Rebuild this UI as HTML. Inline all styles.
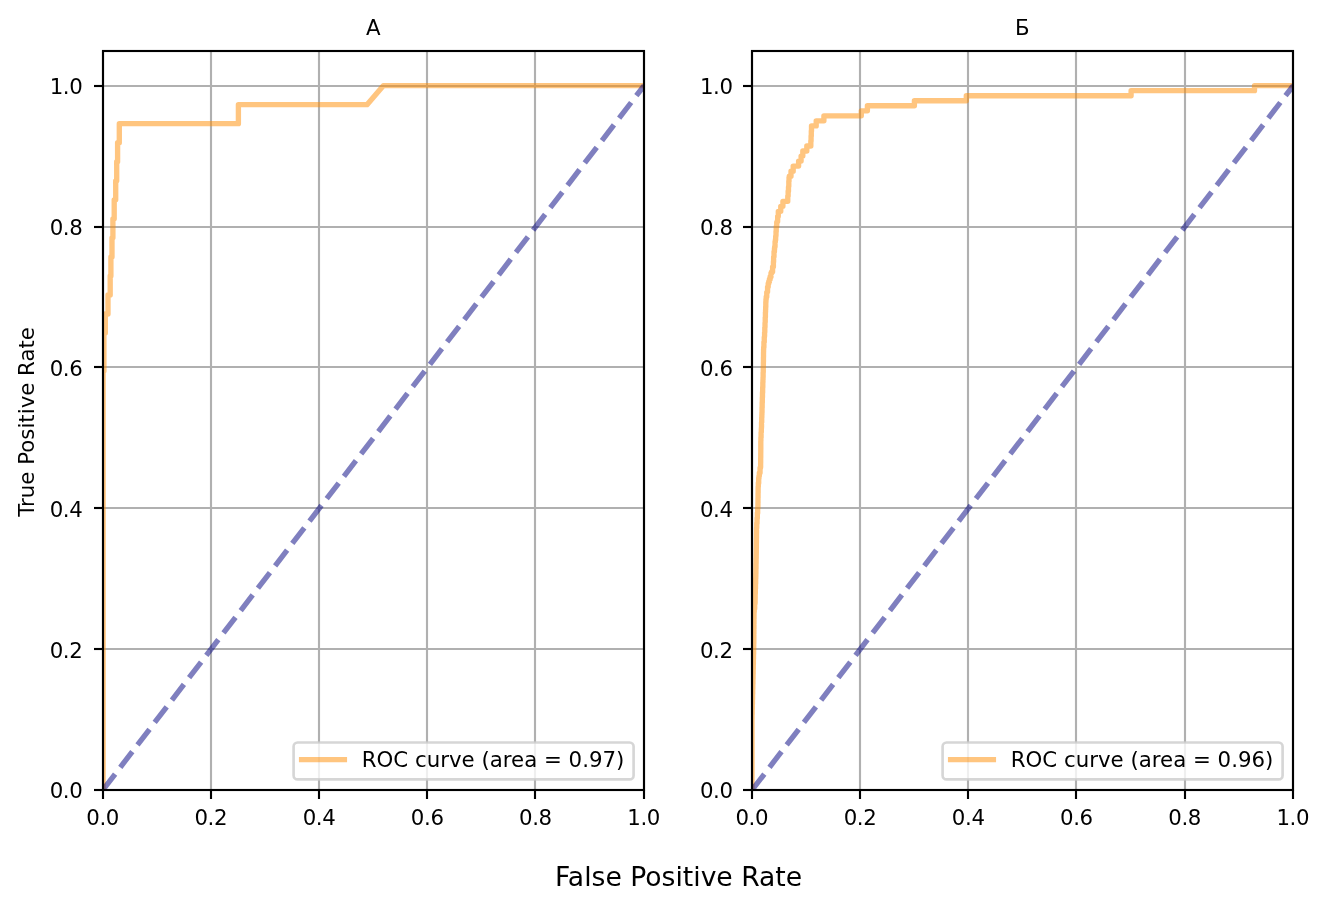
<!DOCTYPE html>
<html lang="en"><head><meta charset="utf-8"><title>ROC curves</title>
<style>html,body{margin:0;padding:0;background:#fff}svg{display:block}text{font-family:"DejaVu Sans","Liberation Sans",sans-serif;fill:#000}</style>
</head><body>
<svg width="1329" height="911" viewBox="0 0 1329 911">
<rect width="1329" height="911" fill="#fff"/>
<defs>
<clipPath id="c0"><rect x="103.0" y="51.0" width="541.0" height="739.0"/></clipPath>
<clipPath id="c1"><rect x="752.0" y="51.0" width="541.0" height="739.0"/></clipPath>
</defs>
<g id="axes0">
<g stroke="#b0b0b0" stroke-width="2.13" fill="none">
<line x1="103.00" y1="51.0" x2="103.00" y2="790.0"/>
<line x1="211.00" y1="51.0" x2="211.00" y2="790.0"/>
<line x1="319.00" y1="51.0" x2="319.00" y2="790.0"/>
<line x1="427.00" y1="51.0" x2="427.00" y2="790.0"/>
<line x1="535.00" y1="51.0" x2="535.00" y2="790.0"/>
<line x1="644.00" y1="51.0" x2="644.00" y2="790.0"/>
<line x1="103.0" y1="790.00" x2="644.0" y2="790.00"/>
<line x1="103.0" y1="649.00" x2="644.0" y2="649.00"/>
<line x1="103.0" y1="508.00" x2="644.0" y2="508.00"/>
<line x1="103.0" y1="367.00" x2="644.0" y2="367.00"/>
<line x1="103.0" y1="227.00" x2="644.0" y2="227.00"/>
<line x1="103.0" y1="86.00" x2="644.0" y2="86.00"/>
</g>
<g clip-path="url(#c0)" fill="none">
<path transform="translate(0 -0.35)" d="M103.10 790.00 L103.10 790.00 L103.10 371.41 L103.90 371.41 L103.90 333.35 L105.30 333.35 L105.30 314.32 L108.00 314.32 L108.00 295.30 L110.20 295.30 L110.20 276.27 L110.90 276.27 L110.90 257.24 L112.00 257.24 L112.00 238.22 L112.90 238.22 L112.90 219.19 L114.20 219.19 L114.20 200.16 L115.70 200.16 L115.70 181.14 L116.70 181.14 L116.70 162.11 L117.60 162.11 L117.60 143.08 L119.30 143.08 L119.30 124.05 L238.40 124.05 L238.40 105.03 L367.00 105.03 L383.30 86.00 L644.00 86.00" stroke="#ff8c00" stroke-opacity="0.5" stroke-width="5.33" stroke-linejoin="round" stroke-linecap="square"/>
<line x1="103.1" y1="789.65" x2="644.1" y2="85.65" stroke="#000080" stroke-opacity="0.5" stroke-width="5.33" stroke-dasharray="19.71 8.52"/>
</g>
<g stroke="#000" stroke-width="2.13">
<line x1="103.00" y1="790.0" x2="103.00" y2="799.00"/>
<line x1="94.00" y1="790.00" x2="103.0" y2="790.00"/>
<line x1="211.00" y1="790.0" x2="211.00" y2="799.00"/>
<line x1="94.00" y1="649.00" x2="103.0" y2="649.00"/>
<line x1="319.00" y1="790.0" x2="319.00" y2="799.00"/>
<line x1="94.00" y1="508.00" x2="103.0" y2="508.00"/>
<line x1="427.00" y1="790.0" x2="427.00" y2="799.00"/>
<line x1="94.00" y1="367.00" x2="103.0" y2="367.00"/>
<line x1="535.00" y1="790.0" x2="535.00" y2="799.00"/>
<line x1="94.00" y1="227.00" x2="103.0" y2="227.00"/>
<line x1="644.00" y1="790.0" x2="644.00" y2="799.00"/>
<line x1="94.00" y1="86.00" x2="103.0" y2="86.00"/>
</g>
<rect x="103.0" y="51.0" width="541.0" height="739.0" fill="none" stroke="#000" stroke-width="2.13" stroke-linejoin="miter"/>
<g font-size="21.3">
<g letter-spacing="-0.4">
<text x="102.60" y="824.7" text-anchor="middle">0.0</text>
<text x="82.40" y="797.80" text-anchor="end">0.0</text>
<text x="210.80" y="824.7" text-anchor="middle">0.2</text>
<text x="82.40" y="657.80" text-anchor="end">0.2</text>
<text x="319.00" y="824.7" text-anchor="middle">0.4</text>
<text x="82.40" y="516.80" text-anchor="end">0.4</text>
<text x="427.20" y="824.7" text-anchor="middle">0.6</text>
<text x="82.40" y="375.80" text-anchor="end">0.6</text>
<text x="535.40" y="824.7" text-anchor="middle">0.8</text>
<text x="82.40" y="234.80" text-anchor="end">0.8</text>
<text x="643.60" y="824.7" text-anchor="middle">1.0</text>
<text x="82.40" y="93.80" text-anchor="end">1.0</text>
</g>
<text x="373.30" y="34.8" text-anchor="middle">A</text>
</g>
<rect x="293.60" y="742.5" width="340.00" height="36.90" rx="4" ry="4" fill="#fff" fill-opacity="0.8" stroke="#ccc" stroke-opacity="0.8" stroke-width="2.66"/>
<line x1="301.60" y1="759.55" x2="344.40" y2="759.55" stroke="#ff8c00" stroke-opacity="0.5" stroke-width="5.33" stroke-linecap="square"/>
<text x="361.80" y="766.8" font-size="21.3">ROC curve (area = 0.97)</text>
</g>
<g id="axes1">
<g stroke="#b0b0b0" stroke-width="2.13" fill="none">
<line x1="752.00" y1="51.0" x2="752.00" y2="790.0"/>
<line x1="860.00" y1="51.0" x2="860.00" y2="790.0"/>
<line x1="968.00" y1="51.0" x2="968.00" y2="790.0"/>
<line x1="1076.00" y1="51.0" x2="1076.00" y2="790.0"/>
<line x1="1185.00" y1="51.0" x2="1185.00" y2="790.0"/>
<line x1="1293.00" y1="51.0" x2="1293.00" y2="790.0"/>
<line x1="752.0" y1="790.00" x2="1293.0" y2="790.00"/>
<line x1="752.0" y1="649.00" x2="1293.0" y2="649.00"/>
<line x1="752.0" y1="508.00" x2="1293.0" y2="508.00"/>
<line x1="752.0" y1="367.00" x2="1293.0" y2="367.00"/>
<line x1="752.0" y1="227.00" x2="1293.0" y2="227.00"/>
<line x1="752.0" y1="86.00" x2="1293.0" y2="86.00"/>
</g>
<g clip-path="url(#c1)" fill="none">
<path transform="translate(0 -0.35)" d="M752.00 790.00 L752.00 720.00 L752.00 720.00 L752.00 719.60 L752.07 719.60 L752.07 714.57 L752.19 714.57 L752.19 709.54 L752.31 709.54 L752.31 704.51 L752.43 704.51 L752.43 699.49 L752.55 699.49 L752.55 694.46 L752.67 694.46 L752.67 689.43 L752.79 689.43 L752.79 684.40 L752.91 684.40 L752.91 679.37 L753.04 679.37 L753.04 674.34 L753.15 674.34 L753.15 670.00 L753.20 670.00 L753.21 670.00 L753.21 669.31 L753.27 669.31 L753.27 664.29 L753.38 664.29 L753.38 659.26 L753.49 659.26 L753.49 654.23 L753.61 654.23 L753.61 649.20 L753.72 649.20 L753.72 644.17 L753.79 644.17 L753.79 643.00 L753.80 643.00 L753.82 643.00 L753.82 639.14 L753.85 639.14 L753.85 634.11 L753.89 634.11 L753.89 629.09 L753.93 629.09 L753.93 624.06 L753.97 624.06 L753.97 619.03 L754.01 619.03 L754.01 614.00 L754.04 614.00 L754.04 612.00 L754.05 612.00 L754.23 612.00 L754.23 608.97 L754.70 608.97 L754.70 603.94 L755.05 603.94 L755.05 603.00 L755.10 603.00 L755.13 603.00 L755.13 598.91 L755.18 598.91 L755.18 595.00 L755.20 595.00 L755.22 595.00 L755.22 593.89 L755.32 593.89 L755.32 588.86 L755.49 588.86 L755.49 583.83 L755.66 583.83 L755.66 578.80 L755.77 578.80 L755.77 577.00 L755.80 577.00 L755.83 577.00 L755.83 573.77 L755.92 573.77 L755.92 568.74 L756.02 568.74 L756.02 563.71 L756.12 563.71 L756.12 558.69 L756.21 558.69 L756.21 555.00 L756.25 555.00 L756.26 555.00 L756.26 553.66 L756.30 553.66 L756.30 548.63 L756.37 548.63 L756.37 543.60 L756.43 543.60 L756.43 538.57 L756.50 538.57 L756.50 533.54 L756.56 533.54 L756.56 528.51 L756.60 528.51 L756.60 528.00 L756.60 528.00 L756.74 528.00 L756.74 523.49 L757.04 523.49 L757.04 518.46 L757.35 518.46 L757.35 513.43 L757.66 513.43 L757.66 508.40 L757.86 508.40 L757.86 507.10 L757.90 507.10 L757.93 507.10 L757.93 503.37 L757.99 503.37 L757.99 498.34 L758.07 498.34 L758.07 493.31 L758.14 493.31 L758.14 488.29 L758.19 488.29 L758.19 486.90 L758.20 486.90 L758.35 486.90 L758.35 483.26 L758.70 483.26 L758.70 478.23 L758.98 478.23 L758.98 476.40 L759.05 476.40 L759.33 476.40 L759.33 473.20 L760.06 473.20 L760.06 468.17 L760.55 468.17 L760.55 467.60 L760.60 467.60 L760.63 467.60 L760.63 463.14 L760.68 463.14 L760.68 458.11 L760.74 458.11 L760.74 453.09 L760.78 453.09 L760.78 450.00 L760.80 450.00 L760.80 441.50 L760.89 441.50 L760.89 438.00 L761.09 438.00 L761.09 432.97 L761.31 432.97 L761.31 429.20 L761.40 429.20 L761.42 429.20 L761.42 427.94 L761.53 427.94 L761.53 422.91 L761.71 422.91 L761.71 417.89 L761.85 417.89 L761.85 415.10 L761.90 415.10 L761.93 415.10 L761.93 412.86 L762.04 412.86 L762.04 407.83 L762.18 407.83 L762.18 402.80 L762.32 402.80 L762.32 397.77 L762.40 397.77 L762.40 397.60 L762.40 397.60 L762.48 397.60 L762.48 392.74 L762.65 392.74 L762.65 387.71 L762.82 387.71 L762.82 382.69 L762.95 382.69 L762.95 380.00 L763.00 380.00 L763.03 380.00 L763.03 377.66 L763.13 377.66 L763.13 372.63 L763.27 372.63 L763.27 367.60 L763.34 367.60 L763.34 367.10 L763.35 367.10 L763.38 367.10 L763.38 362.57 L763.45 362.57 L763.45 357.54 L763.52 357.54 L763.52 352.51 L763.58 352.51 L763.58 349.50 L763.60 349.50 L763.67 349.50 L763.67 347.49 L763.91 347.49 L763.91 342.46 L764.26 342.46 L764.26 337.43 L764.46 337.43 L764.46 336.40 L764.50 336.40 L764.59 336.40 L764.59 332.40 L764.80 332.40 L764.80 327.37 L765.01 327.37 L765.01 323.20 L765.10 323.20 L765.12 323.20 L765.12 322.34 L765.23 322.34 L765.23 317.31 L765.42 317.31 L765.42 312.29 L765.56 312.29 L765.56 310.00 L765.60 310.00 L765.65 310.00 L765.65 307.26 L765.80 307.26 L765.80 302.23 L765.95 302.23 L765.95 299.70 L766.00 299.70 L766.20 299.70 L766.20 297.20 L766.75 297.20 L766.75 292.70 L767.10 292.70 L767.14 292.70 L767.14 292.17 L767.57 292.17 L767.57 287.14 L768.20 287.14 L768.20 283.90 L768.45 283.90 L768.72 283.90 L768.72 282.11 L769.40 282.11 L769.40 279.50 L769.80 279.50 L770.14 279.50 L770.14 277.09 L770.99 277.09 L770.99 273.40 L771.50 273.40 L771.69 273.40 L771.69 272.06 L772.59 272.06 L772.59 267.20 L773.30 267.20 L773.30 267.20 L773.30 267.03 L773.41 267.03 L773.41 262.00 L773.61 262.00 L773.61 257.60 L773.70 257.60 L773.73 257.60 L773.73 256.97 L774.02 256.97 L774.02 251.94 L774.44 251.94 L774.44 248.80 L774.60 248.80 L774.70 248.80 L774.70 246.91 L775.05 246.91 L775.05 241.89 L775.40 241.89 L775.40 240.00 L775.50 240.00 L775.65 240.00 L775.65 236.86 L775.85 236.86 L775.85 235.90 L775.90 235.90 L776.00 235.90 L776.00 231.83 L776.23 231.83 L776.23 227.10 L776.35 227.10 L776.37 227.10 L776.37 226.80 L776.72 226.80 L776.72 222.70 L777.05 222.70 L777.13 222.70 L777.13 221.77 L777.64 221.77 L777.64 216.74 L778.09 216.74 L778.09 216.60 L778.10 216.60 L778.30 216.60 L778.30 211.71 L778.50 211.71 L780.75 211.71 L780.75 206.69 L782.90 206.69 L782.90 201.66 L787.60 201.66 L787.77 201.66 L787.77 196.63 L787.94 196.63 L787.94 196.40 L787.95 196.40 L788.14 196.40 L788.14 191.60 L788.49 191.60 L788.49 187.60 L788.65 187.60 L788.67 187.60 L788.67 186.57 L788.81 186.57 L788.81 181.54 L789.02 181.54 L789.02 177.90 L789.10 177.90 L789.30 177.90 L789.30 176.51 L789.50 176.51 L791.00 176.51 L791.00 171.49 L793.20 171.49 L793.20 166.46 L798.60 166.46 L798.60 161.43 L801.10 161.43 L801.10 156.40 L802.80 156.40 L802.80 151.37 L806.80 151.37 L806.80 146.34 L810.70 146.34 L810.83 146.34 L810.83 141.31 L811.08 141.31 L811.08 136.29 L811.20 136.29 L811.30 136.29 L811.30 131.26 L811.50 131.26 L811.50 126.23 L811.60 126.23 L816.20 126.23 L816.20 121.20 L823.90 121.20 L823.90 116.17 L861.30 116.17 L861.30 111.14 L867.40 111.14 L867.40 106.11 L914.40 106.11 L914.40 101.09 L966.30 101.09 L966.30 96.06 L1131.10 96.06 L1131.10 91.03 L1254.50 91.03 L1254.50 86.00 L1293.00 86.00" stroke="#ff8c00" stroke-opacity="0.5" stroke-width="5.33" stroke-linejoin="round" stroke-linecap="square"/>
<line x1="752.3" y1="789.65" x2="1293.3" y2="85.65" stroke="#000080" stroke-opacity="0.5" stroke-width="5.33" stroke-dasharray="19.71 8.52"/>
</g>
<g stroke="#000" stroke-width="2.13">
<line x1="752.00" y1="790.0" x2="752.00" y2="799.00"/>
<line x1="743.00" y1="790.00" x2="752.0" y2="790.00"/>
<line x1="860.00" y1="790.0" x2="860.00" y2="799.00"/>
<line x1="743.00" y1="649.00" x2="752.0" y2="649.00"/>
<line x1="968.00" y1="790.0" x2="968.00" y2="799.00"/>
<line x1="743.00" y1="508.00" x2="752.0" y2="508.00"/>
<line x1="1076.00" y1="790.0" x2="1076.00" y2="799.00"/>
<line x1="743.00" y1="367.00" x2="752.0" y2="367.00"/>
<line x1="1185.00" y1="790.0" x2="1185.00" y2="799.00"/>
<line x1="743.00" y1="227.00" x2="752.0" y2="227.00"/>
<line x1="1293.00" y1="790.0" x2="1293.00" y2="799.00"/>
<line x1="743.00" y1="86.00" x2="752.0" y2="86.00"/>
</g>
<rect x="752.0" y="51.0" width="541.0" height="739.0" fill="none" stroke="#000" stroke-width="2.13" stroke-linejoin="miter"/>
<g font-size="21.3">
<g letter-spacing="-0.4">
<text x="751.80" y="824.7" text-anchor="middle">0.0</text>
<text x="732.55" y="797.80" text-anchor="end">0.0</text>
<text x="860.00" y="824.7" text-anchor="middle">0.2</text>
<text x="732.55" y="657.80" text-anchor="end">0.2</text>
<text x="968.20" y="824.7" text-anchor="middle">0.4</text>
<text x="732.55" y="516.80" text-anchor="end">0.4</text>
<text x="1076.40" y="824.7" text-anchor="middle">0.6</text>
<text x="732.55" y="375.80" text-anchor="end">0.6</text>
<text x="1184.60" y="824.7" text-anchor="middle">0.8</text>
<text x="732.55" y="234.80" text-anchor="end">0.8</text>
<text x="1292.80" y="824.7" text-anchor="middle">1.0</text>
<text x="732.55" y="93.80" text-anchor="end">1.0</text>
</g>
<text x="1022.30" y="34.8" text-anchor="middle">Б</text>
</g>
<rect x="942.60" y="742.5" width="340.00" height="36.90" rx="4" ry="4" fill="#fff" fill-opacity="0.8" stroke="#ccc" stroke-opacity="0.8" stroke-width="2.66"/>
<line x1="950.60" y1="759.55" x2="993.40" y2="759.55" stroke="#ff8c00" stroke-opacity="0.5" stroke-width="5.33" stroke-linecap="square"/>
<text x="1010.80" y="766.8" font-size="21.3">ROC curve (area = 0.96)</text>
</g>
<text transform="translate(33.8 421.9) rotate(-90)" text-anchor="middle" font-size="21.3">True Positive Rate</text>
<text x="678.6" y="885.8" text-anchor="middle" font-size="26.6">False Positive Rate</text>
</svg>
</body></html>
